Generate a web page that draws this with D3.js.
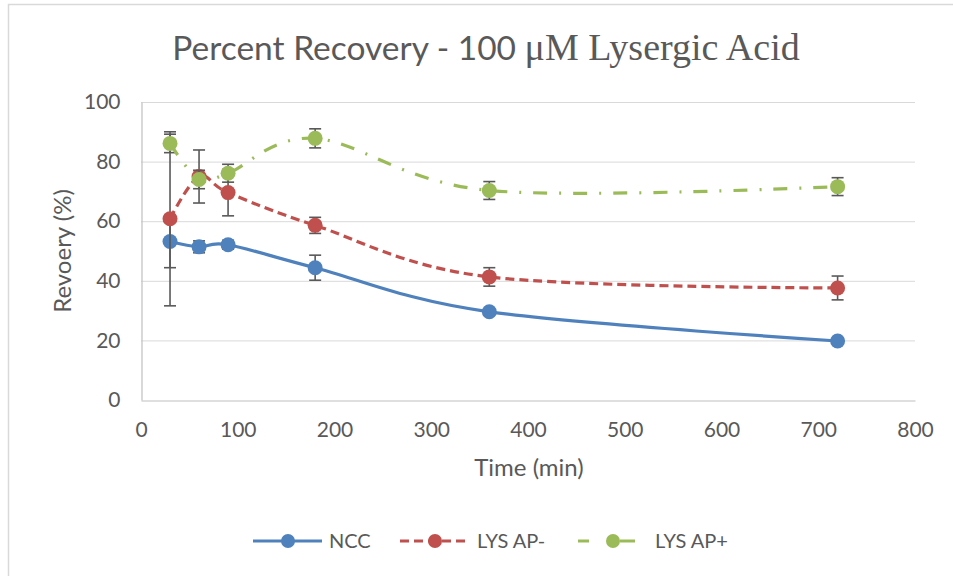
<!DOCTYPE html>
<html>
<head>
<meta charset="utf-8">
<script src="https://cdnjs.cloudflare.com/ajax/libs/d3/7.8.5/d3.min.js"></script>
<style>
  html, body { margin: 0; padding: 0; background: #fff; }
  svg { display: block; }
  text { font-family: Lato, "Open Sans", sans-serif; fill: #595959; }
</style>
</head>
<body>
<svg id="chart" width="953" height="576"></svg>
<script>
// ---- data ----
const times = [30, 60, 90, 180, 360, 720];
const seriesNames = ["NCC", "LYS AP-", "LYS AP+"];
const nccValues = [53.2, 51.4, 52.1, 44.4, 29.6, 19.8];
const nccErrors = [8.8, 2.0, 1.5, 4.2, 1.0, 0.8];
const apMinusValues = [60.8, 75.0, 69.6, 58.6, 41.3, 37.6];
const apMinusErrors = [29.2, 8.9, 7.8, 2.7, 3.1, 4.0];
const apPlusValues = [86.1, 74.0, 76.1, 87.8, 70.3, 71.6];
const apPlusErrors = [3.1, 3.1, 3.0, 3.2, 3.0, 3.0];
const xTicks = [0, 100, 200, 300, 400, 500, 600, 700, 800];
const yTicks = [0, 20, 40, 60, 80, 100];
const titleSans = "Percent Recovery - 100 ";
const titleSerif = "\u03bcM Lysergic Acid";
const xTitle = "Time (min)";
const yTitle = "Revoery (%)";

const colors = ["#4F81BD", "#C0504D", "#9BBB59"];
const dashes = [null, "9,5", "14,12,2,12"];

const series = seriesNames.map((name, i) => ({
  name,
  color: colors[i],
  dash: dashes[i],
  values: [nccValues, apMinusValues, apPlusValues][i],
  errors: [nccErrors, apMinusErrors, apPlusErrors][i]
}));

const svg = d3.select("#chart");

// outer frame
svg.append("rect")
  .attr("x", 8.5).attr("y", 4.5).attr("width", 1000).attr("height", 1000)
  .attr("fill", "none").attr("stroke", "#d9d9d9").attr("stroke-width", 1.5);

const x = d3.scaleLinear().domain([0, 800]).range([141, 915]);
const y = d3.scaleLinear().domain([0, 100]).range([400, 102]);

// gridlines
svg.append("g").selectAll("line").data(yTicks.filter(d => d > 0)).join("line")
  .attr("x1", x(0)).attr("x2", x(800))
  .attr("y1", d => y(d) + 0.5).attr("y2", d => y(d) + 0.5)
  .attr("stroke", "#d9d9d9").attr("stroke-width", 1);

// axes
const xAxis = svg.append("g").attr("transform", `translate(0,${y(0) + 0.5})`)
  .call(d3.axisBottom(x).tickValues(xTicks).tickSize(0).tickPadding(22));
xAxis.select(".domain").attr("stroke", "#bfbfbf").attr("stroke-width", 1.2);
xAxis.selectAll("text").attr("font-size", 21).attr("fill", "#595959")
  .attr("font-family", "Lato, sans-serif");

const yAxis = svg.append("g").attr("transform", `translate(${x(0) + 0.5},0)`)
  .call(d3.axisLeft(y).tickValues(yTicks).tickSize(0).tickPadding(21));
yAxis.select(".domain").attr("stroke", "#bfbfbf").attr("stroke-width", 1.2);
yAxis.selectAll("text").attr("font-size", 21).attr("fill", "#595959")
  .attr("font-family", "Lato, sans-serif");

// title
const title = svg.append("text").attr("x", 486).attr("y", 60)
  .attr("text-anchor", "middle").attr("font-size", 33.5);
title.append("tspan").attr("font-family", "Lato, sans-serif").text(titleSans);
title.append("tspan").attr("font-family", "'Liberation Serif', 'DejaVu Serif', serif")
  .attr("font-size", 38).text(titleSerif);

// axis titles
svg.append("text").attr("x", 529).attr("y", 476).attr("text-anchor", "middle")
  .attr("font-size", 24).text(xTitle);
svg.append("text").attr("transform", "translate(71,251) rotate(-90)")
  .attr("text-anchor", "middle").attr("font-size", 24).text(yTitle);

// series
const line = d3.line().curve(d3.curveCatmullRom.alpha(0))
  .x(d => x(d.t)).y(d => y(d.v));

series.forEach(s => {
  const pts = times.map((t, i) => ({ t, v: s.values[i], e: s.errors[i] }));
  const g = svg.append("g");
  // error bars
  const eb = g.append("g").attr("stroke", "#595959").attr("stroke-width", 1.6);
  pts.forEach(p => {
    eb.append("line").attr("x1", x(p.t)).attr("x2", x(p.t))
      .attr("y1", y(p.v + p.e)).attr("y2", y(p.v - p.e));
    [p.v + p.e, p.v - p.e].forEach(v => {
      eb.append("line").attr("x1", x(p.t) - 6).attr("x2", x(p.t) + 6)
        .attr("y1", y(v)).attr("y2", y(v));
    });
  });
  g.append("path").datum(pts).attr("d", line)
    .attr("fill", "none").attr("stroke", s.color).attr("stroke-width", 3.2)
    .attr("stroke-dasharray", s.dash);
  g.selectAll("circle").data(pts).join("circle")
    .attr("cx", d => x(d.t)).attr("cy", d => y(d.v)).attr("r", 7.5)
    .attr("fill", s.color);
});

// legend
const legendItems = [
  { lx: 253, tx: 329 },
  { lx: 400, tx: 477 },
  { lx: 578, tx: 655 }
];
const ly = 541;
series.forEach((s, i) => {
  const li = legendItems[i];
  const g = svg.append("g");
  if (i === 2) {
    g.append("line").attr("x1", li.lx).attr("x2", li.lx + 11).attr("y1", ly).attr("y2", ly)
      .attr("stroke", s.color).attr("stroke-width", 3);
    g.append("line").attr("x1", li.lx + 42).attr("x2", li.lx + 57).attr("y1", ly).attr("y2", ly)
      .attr("stroke", s.color).attr("stroke-width", 3);
    g.append("circle").attr("cx", li.lx + 35).attr("cy", ly).attr("r", 7).attr("fill", s.color);
  } else {
    g.append("line").attr("x1", li.lx).attr("x2", li.lx + 69).attr("y1", ly).attr("y2", ly)
      .attr("stroke", s.color).attr("stroke-width", 3)
      .attr("stroke-dasharray", s.dash);
    g.append("circle").attr("cx", li.lx + 35).attr("cy", ly).attr("r", 7).attr("fill", s.color);
  }
  g.append("text").attr("x", li.tx).attr("y", ly + 7).attr("font-size", 20).text(s.name);
});
</script>
</body>
</html>
